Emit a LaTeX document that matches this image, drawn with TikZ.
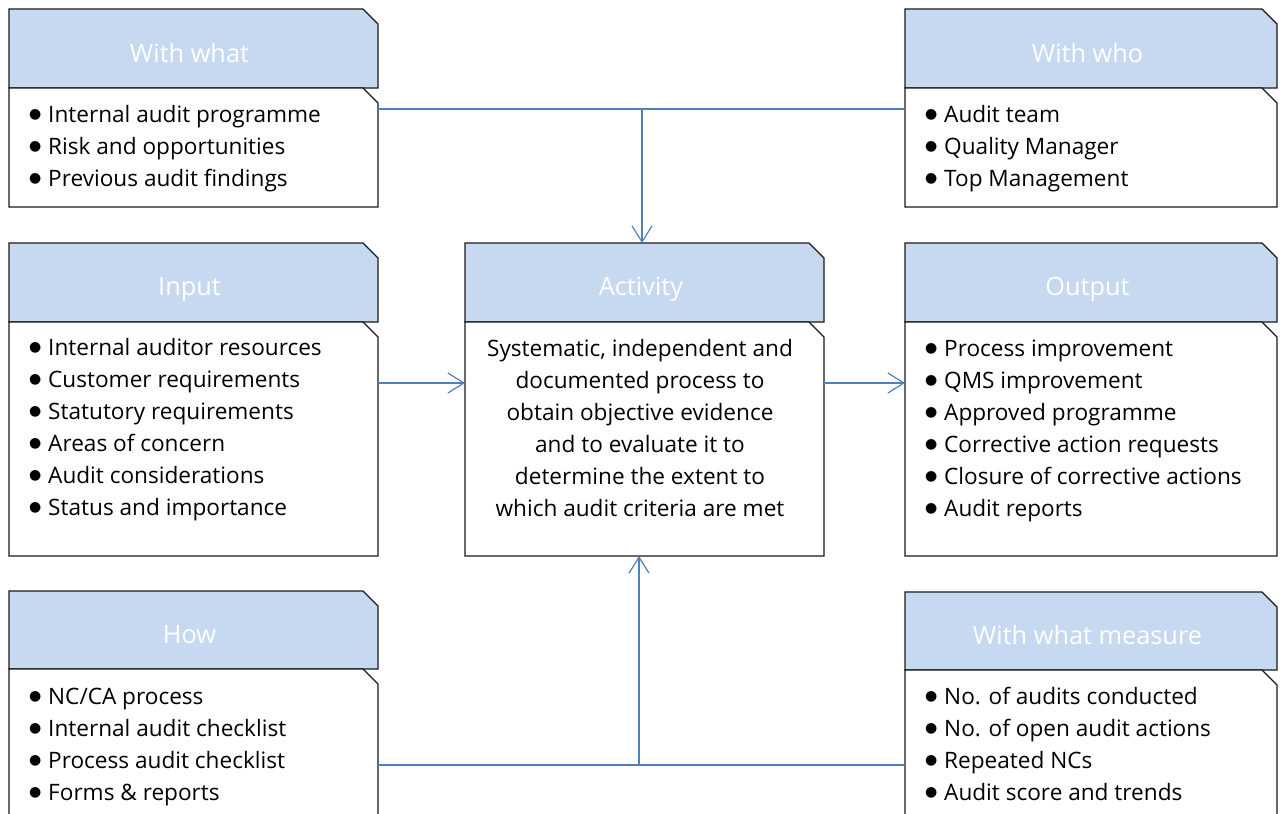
\documentclass[tikz,border=0pt]{standalone}
\usepackage{fontspec}
\setmainfont{Open Sans}
\newfontfamily\bulfont{DejaVu Sans}
\usetikzlibrary{arrows.meta}
\definecolor{headfill}{HTML}{C6D9F1}
\definecolor{linkblue}{HTML}{4F81BD}
\newcommand\bl{\makebox[19pt][l]{\raisebox{3.5pt}{\bulfont\fontsize{14}{14}\selectfont ●}}}
\newcommand\panelpath[2]{\filldraw[fill=#2, draw=black!90, line width=1.3pt, line join=miter]
  (#1.north west) -- ([xshift=-15pt]#1.north east) -- ([yshift=-15pt]#1.north east)
  -- (#1.south east) -- (#1.south west) -- cycle;}
\begin{document}
\begin{tikzpicture}[x=1pt,y=-1pt,
  panel/.style={rectangle, draw=none, inner sep=0pt, outer sep=0pt, anchor=north west},
  title/.style={font=\fontsize{25.3}{30}\selectfont, text=white, inner sep=0pt, anchor=base},
  items/.style={font=\fontsize{22.6}{32}\selectfont, inner sep=0pt, anchor=base west},
  link/.style={draw=linkblue, line width=1.2pt},
  arr/.style={link, -{Straight Barb[length=16pt,width=20pt,line width=1.2pt]}}
]
\path[use as bounding box, clip] (0,0) rectangle (1280,814);
\fill[white] (0,0) rectangle (1280,814);

% boxes
\node[panel, minimum width=369pt, minimum height=79pt] (wwh) at (9,9) {};
\node[panel, minimum width=369pt, minimum height=119pt] (wwb) at (9,88) {};
\node[panel, minimum width=372pt, minimum height=79pt] (whoh) at (905,9) {};
\node[panel, minimum width=372pt, minimum height=119pt] (whob) at (905,88) {};
\node[panel, minimum width=369pt, minimum height=79pt] (inh) at (9,243) {};
\node[panel, minimum width=369pt, minimum height=234pt] (inb) at (9,322) {};
\node[panel, minimum width=359pt, minimum height=79pt] (acth) at (465,243) {};
\node[panel, minimum width=359pt, minimum height=234pt] (actb) at (465,322) {};
\node[panel, minimum width=372pt, minimum height=79pt] (outh) at (905,243) {};
\node[panel, minimum width=372pt, minimum height=234pt] (outb) at (905,322) {};
\node[panel, minimum width=369pt, minimum height=78pt] (howh) at (9,591) {};
\node[panel, minimum width=369pt, minimum height=200pt] (howb) at (9,669) {};
\node[panel, minimum width=372pt, minimum height=78pt] (wwmh) at (905,592) {};
\node[panel, minimum width=372pt, minimum height=200pt] (wwmb) at (905,670) {};
\panelpath{wwh}{headfill}\panelpath{wwb}{white}
\panelpath{whoh}{headfill}\panelpath{whob}{white}
\panelpath{inh}{headfill}\panelpath{inb}{white}
\panelpath{acth}{headfill}\panelpath{actb}{white}
\panelpath{outh}{headfill}\panelpath{outb}{white}
\panelpath{howh}{headfill}\panelpath{howb}{white}
\panelpath{wwmh}{headfill}\panelpath{wwmb}{white}

% titles
\node[title] (wwt) at (189.5,62) {With what};
\node[title] (whot) at (1087.5,62) {With who};
\node[title] (int) at (189.5,295) {Input};
\node[title] (actt) at (641,295) {Activity};
\node[title] (outt) at (1087.5,295) {Output};
\node[title] (howt) at (189.5,643) {How};
\node[title] (wwmt) at (1087.5,644) {With what measure};

% items
\node[items] (wwi) at (29,122) {\begin{tabular}[t]{@{}l@{}}
\bl Internal audit programme\\ \bl Risk and opportunities\\ \bl Previous audit findings\end{tabular}};
\node[items] (whoi) at (925,122) {\begin{tabular}[t]{@{}l@{}}
\bl Audit team\\ \bl Quality Manager\\ \bl Top Management\end{tabular}};
\node[items] (ini) at (29,355) {\begin{tabular}[t]{@{}l@{}}
\bl Internal auditor resources\\ \bl Customer requirements\\ \bl Statutory requirements\\
\bl Areas of concern\\ \bl Audit considerations\\ \bl Status and importance\end{tabular}};
\node[items, anchor=base] (acti) at (640,356) {\begin{tabular}[t]{@{}c@{}}
Systematic, independent and\\ documented process to\\ obtain objective evidence\\
and to evaluate it to\\ determine the extent to\\ which audit criteria are met\end{tabular}};
\node[items] (outi) at (925,356) {\begin{tabular}[t]{@{}l@{}}
\bl Process improvement\\ \bl QMS improvement\\ \bl Approved programme\\
\bl Corrective action requests\\ \bl Closure of corrective actions\\ \bl Audit reports\end{tabular}};
\node[items] (howi) at (29,704) {\begin{tabular}[t]{@{}l@{}}
\bl NC/CA process\\ \bl Internal audit checklist\\ \bl Process audit checklist\\ \bl Forms \& reports\end{tabular}};
\node[items] (wwmi) at (925,704) {\begin{tabular}[t]{@{}l@{}}
\bl No. of audits conducted\\ \bl No. of open audit actions\\ \bl Repeated NCs\\ \bl Audit score and trends\end{tabular}};

% connectors
\coordinate (topj) at (642,109);
\coordinate (midj) at (0,383);
\coordinate (botj) at (639,765);
\draw[link] (wwb.east |- topj) -- (whob.west |- topj);
\draw[arr] (topj) -- (acth.north -| topj);
\draw[arr] (inb.east |- midj) -- (actb.west |- midj);
\draw[arr] (actb.east |- midj) -- (outb.west |- midj);
\draw[link] (howb.east |- botj) -- (wwmb.west |- botj);
\draw[arr] (botj) -- (actb.south -| botj);
\end{tikzpicture}
\end{document}
